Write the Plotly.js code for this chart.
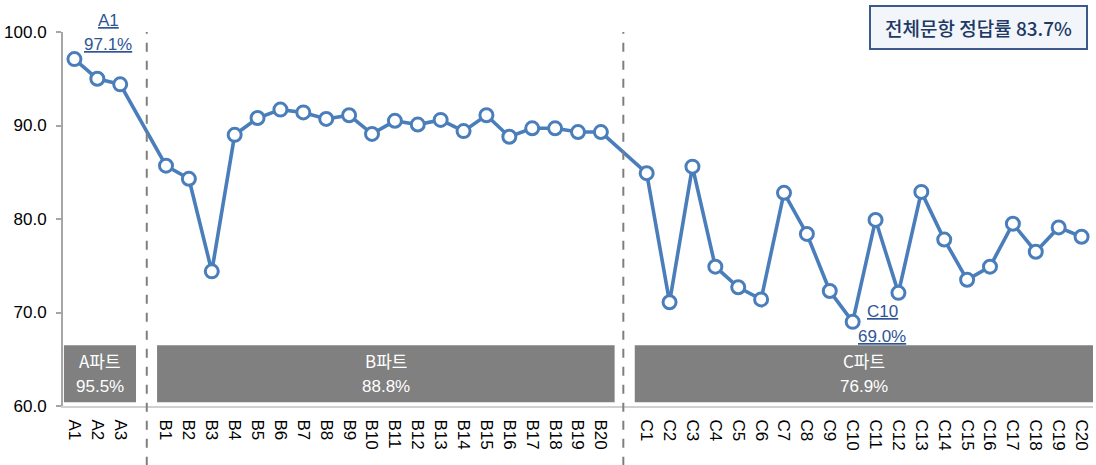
<!DOCTYPE html>
<html>
<head>
<meta charset="utf-8">
<script src="https://cdn.plot.ly/plotly-3.0.1.min.js"></script>
<style>html,body{margin:0;padding:0;background:#fff;}#chart{width:1096px;height:465px;}</style>
</head>
<body>
<div id="chart"></div>
<script>
// ---- data ----
const partNames = ['A파트', 'B파트', 'C파트'];
const partAverages = ['95.5%', '88.8%', '76.9%'];
const aLabels = ['A1','A2','A3'];
const aValues = [97.1, 95.0, 94.4];
const bLabels = ['B1','B2','B3','B4','B5','B6','B7','B8','B9','B10','B11','B12','B13','B14','B15','B16','B17','B18','B19','B20'];
const bValues = [85.7, 84.3, 74.4, 89.0, 90.8, 91.7, 91.4, 90.7, 91.1, 89.1, 90.5, 90.1, 90.6, 89.4, 91.1, 88.8, 89.7, 89.7, 89.3, 89.3];
const cLabels = ['C1','C2','C3','C4','C5','C6','C7','C8','C9','C10','C11','C12','C13','C14','C15','C16','C17','C18','C19','C20'];
const cValues = [84.9, 71.1, 85.6, 74.9, 72.7, 71.4, 82.8, 78.4, 72.3, 69.0, 79.9, 72.1, 82.9, 77.8, 73.5, 74.9, 79.5, 76.5, 79.1, 78.1];
const overallText = '전체문항 정답률 83.7%';
const yTicks = [60, 70, 80, 90, 100];

// ---- build positions (one empty slot between parts) ----
const parts = [[aLabels, aValues], [bLabels, bValues], [cLabels, cValues]];
const xs = [], ys = [], tickText = [];
let pos = 0;
parts.forEach(([labels, vals]) => {
  labels.forEach((lab, i) => { xs.push(pos); ys.push(vals[i]); tickText.push(lab); pos++; });
  pos++; // gap slot
});

const blue = '#4A7EBB';
const labelBlue = '#2F5597';
const gray = '#808080';
const TOP = 32, BOTTOM = 406, PH = BOTTOM - TOP;
const py = p => (BOTTOM - p) / PH; // pixel row -> paper y

const trace = {
  x: xs, y: ys, type: 'scatter', mode: 'lines+markers',
  line: {color: blue, width: 3.6},
  marker: {size: 13, color: '#FFFFFF', line: {color: blue, width: 3}},
  cliponaxis: false, hoverinfo: 'skip'
};

// part boxes
const boxExtents = [[-0.46, 2.69], [3.61, 23.6], [24.48, 44.6]];
const shapes = boxExtents.map(([x0, x1]) => ({
  type: 'rect', xref: 'x', yref: 'y', x0: x0, x1: x1, y0: 60.4, y1: 66.5,
  fillcolor: gray, line: {width: 0}, layer: 'below'
}));
// dividers
[3.16, 23.98].forEach(xv => shapes.push({
  type: 'line', xref: 'x', yref: 'paper', x0: xv, x1: xv, y0: -0.16, y1: 1.0,
  line: {color: '#7F7F7F', width: 2, dash: 'dash'}
}));

const annotations = [];
boxExtents.forEach(([x0, x1], i) => {
  const cx = (x0 + Math.min(x1, 44.5)) / 2;
  annotations.push({xref: 'x', yref: 'paper', x: cx, y: py(360), text: partNames[i], showarrow: false,
    font: {family: 'Noto Sans CJK KR, Liberation Sans', size: 17, color: '#FFFFFF'}, xanchor: 'center', yanchor: 'middle'});
  annotations.push({xref: 'x', yref: 'paper', x: cx, y: py(386), text: partAverages[i], showarrow: false,
    font: {family: 'Liberation Sans', size: 17, color: '#FFFFFF'}, xanchor: 'center', yanchor: 'middle'});
});

// highlighted points: max and min
function hl(label, value, xv, p1, p2) {
  annotations.push({xref: 'x', yref: 'paper', x: xv, y: py(p1), text: '<span style="text-decoration:underline">' + label + '</span>', showarrow: false,
    font: {family: 'Liberation Sans', size: 17, color: labelBlue}, xanchor: 'center', yanchor: 'middle'});
  annotations.push({xref: 'x', yref: 'paper', x: xv, y: py(p2), text: '<span style="text-decoration:underline">' + value.toFixed(1) + '%</span>', showarrow: false,
    font: {family: 'Liberation Sans', size: 17, color: labelBlue}, xanchor: 'center', yanchor: 'middle'});
}
hl(aLabels[0], aValues[0], 1.47, 20, 44);
hl(cLabels[9], cValues[9], 35.3, 311, 336);

annotations.push({xref: 'x', yref: 'paper', x: 39.48, y: py(27.5), text: overallText, showarrow: false,
  font: {family: 'Noto Sans CJK KR, Liberation Sans', size: 19, color: '#203864', weight: 500},
  bgcolor: '#F2F6FA', bordercolor: '#3B5A8A', borderwidth: 2, borderpad: 0,
  width: 215, height: 41, xanchor: 'center', yanchor: 'middle'});

const layout = {
  width: 1096, height: 465,
  margin: {l: 63, r: 3, t: TOP, b: 465 - BOTTOM},
  paper_bgcolor: '#FFFFFF', plot_bgcolor: '#FFFFFF',
  showlegend: false,
  font: {family: 'Liberation Sans', size: 16, color: '#000000'},
  xaxis: {
    range: [-0.5, 44.5], tickvals: xs, ticktext: tickText, tickangle: 90,
    showgrid: false, zeroline: false, showline: true, linecolor: '#D0D0D0', linewidth: 2,
    ticks: '', ticklabelstandoff: 8,
    tickfont: {family: 'Liberation Sans', size: 17, color: '#000000'}, fixedrange: true
  },
  yaxis: {
    range: [60, 100], tickvals: yTicks, ticktext: yTicks.map(v => v.toFixed(1)),
    showgrid: false, zeroline: false, showline: true, linecolor: '#A6A6A6', linewidth: 2,
    ticks: 'outside', ticklen: 5, tickcolor: '#A6A6A6', tickwidth: 2, ticklabelstandoff: 6,
    tickfont: {family: 'Liberation Sans', size: 17, color: '#000000'}, fixedrange: true
  },
  shapes: shapes,
  annotations: annotations
};

Plotly.newPlot('chart', [trace], layout, {displayModeBar: false, staticPlot: true});
</script>
</body>
</html>
